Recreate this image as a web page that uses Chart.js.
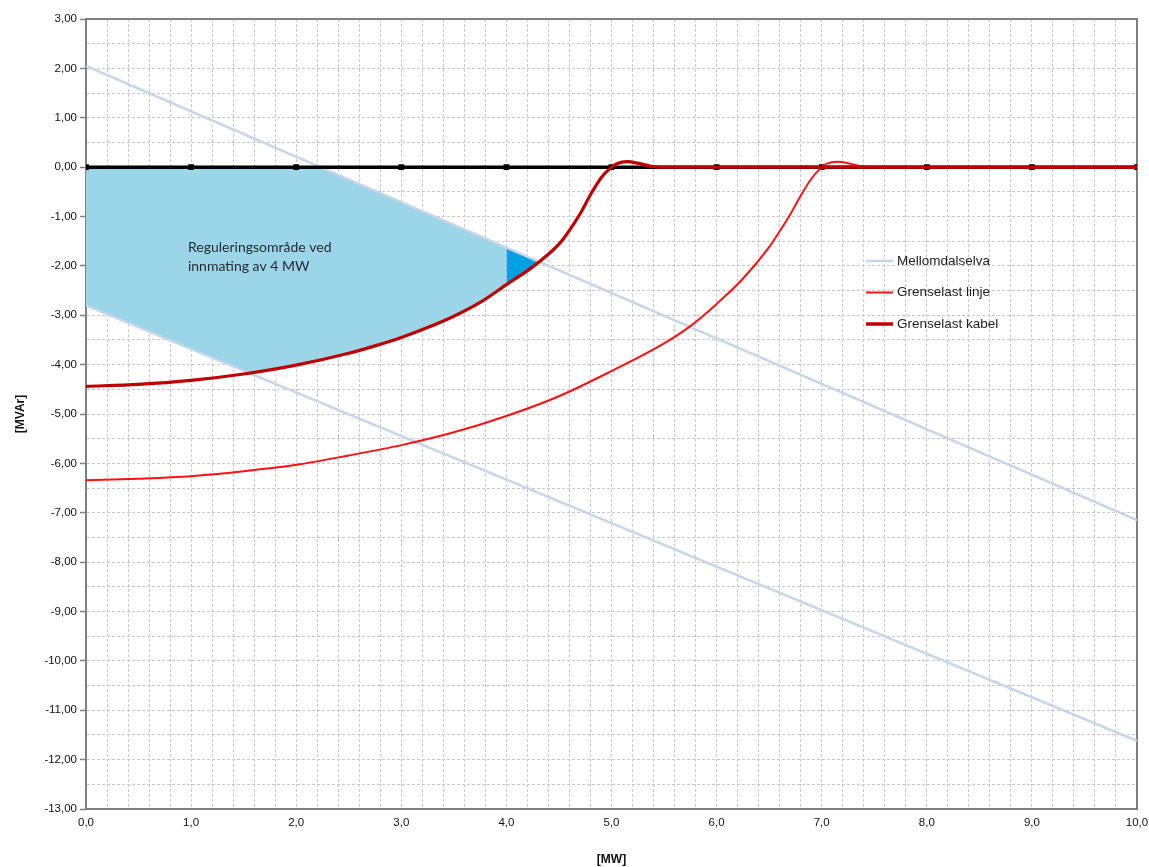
<!DOCTYPE html>
<html>
<head>
<meta charset="utf-8">
<script src="https://cdn.jsdelivr.net/npm/chart.js@4.4.1/dist/chart.umd.min.js"></script>
<style>
  html, body { margin: 0; padding: 0; background: #ffffff; }
  #wrap { width: 1149px; height: 867px; position: relative; }
</style>
</head>
<body>
<div id="wrap"><canvas id="c" width="1149" height="867"></canvas></div>
<script>
// ---- data (MW on x, MVAr on y) ----
const kabelX = [0, 0.5, 1.0, 1.5, 2.0, 2.5, 2.75, 3.0, 3.25, 3.5, 3.75, 4.0, 4.25, 4.5, 4.6, 4.7, 4.8, 4.9, 5.0, 5.05, 5.15, 5.25, 5.35, 5.45, 10];
const kabelY = [-4.44, -4.40, -4.32, -4.19, -4.01, -3.77, -3.62, -3.45, -3.25, -3.02, -2.74, -2.38, -2.02, -1.56, -1.28, -0.95, -0.56, -0.22, 0.0, 0.07, 0.11, 0.08, 0.03, 0.0, 0.0];

const linjeX = [0, 0.5, 1.0, 1.5, 2.0, 2.5, 3.0, 3.5, 4.0, 4.5, 5.0, 5.5, 5.75, 6.0, 6.25, 6.5, 6.6, 6.7, 6.8, 6.9, 7.0, 7.05, 7.15, 7.25, 7.35, 7.45, 10];
const linjeY = [-6.34, -6.31, -6.26, -6.16, -6.03, -5.84, -5.63, -5.37, -5.04, -4.64, -4.13, -3.57, -3.22, -2.77, -2.26, -1.62, -1.30, -0.96, -0.58, -0.24, 0.0, 0.07, 0.11, 0.08, 0.03, 0.0, 0.0];

// Mellomdalselva: upper and lower power-factor limits
const mellomUpperX = [0, 10];
const mellomUpperY = [2.05, -7.15];
const mellomLowerX = [0, 10];
const mellomLowerY = [-2.80, -11.62];

// zero reference line with markers
const zeroX = [0, 1, 2, 3, 4, 5, 6, 7, 8, 9, 10];
const zeroY = [0, 0, 0, 0, 0, 0, 0, 0, 0, 0, 0];

// regulation area at 4 MW infeed
const feedMW = 4.0;
const regionTopX = [0, 2.23, 4.0];
const regionTopY = [0, 0, -1.63];
const regionCornerX = [0, 1.55];      // lower limit line until it meets the cable curve
const regionCornerY = [-2.80, -4.17];
// small area above 4 MW between upper limit and cable curve
const wedgeTopX = [4.0, 4.31];
const wedgeTopY = [-1.63, -1.915];
const wedgeBottomX = [4.0, 4.25, 4.31];
const wedgeBottomY = [-2.38, -2.02, -1.915];

const legendLabels = ['Mellomdalselva', 'Grenselast linje', 'Grenselast kabel'];
const noteLines = ['Reguleringsområde ved', 'innmating av 4 MW'];

// ---- helpers ----
const pts = (xs, ys) => xs.map((x, i) => ({ x: x, y: ys[i] }));
const isInt = v => Math.abs(v - Math.round(v)) < 1e-6;
const comma = (v, d) => v.toFixed(d).replace('.', ',');

const regionBottom = pts(regionCornerX, regionCornerY).concat(
  pts(kabelX, kabelY).filter(p => p.x > regionCornerX[1] && p.x <= feedMW)
);

const C_KABEL = '#c00000';
const C_LINJE = '#ff1010';
const C_MELLOM = '#c5d6ec';
const C_AREA = '#9ad6e8';
const C_WEDGE = '#00a0e2';

const lineBase = { pointRadius: 0, tension: 0, fill: false };

const datasets = [
  Object.assign({}, lineBase, { label: legendLabels[2], data: pts(kabelX, kabelY), borderColor: C_KABEL, borderWidth: 3.2, cubicInterpolationMode: 'monotone' }),
  Object.assign({}, lineBase, { label: legendLabels[1], data: pts(linjeX, linjeY), borderColor: C_LINJE, borderWidth: 2, cubicInterpolationMode: 'monotone' }),
  Object.assign({}, lineBase, { label: '', data: pts(zeroX, zeroY), borderColor: '#000000', borderWidth: 3.5, pointRadius: 1.6, pointStyle: 'rect', pointBackgroundColor: '#000', pointBorderColor: '#000' }),
  Object.assign({}, lineBase, { label: legendLabels[0], data: pts(mellomUpperX, mellomUpperY), borderColor: C_MELLOM, borderWidth: 2.5 }),
  Object.assign({}, lineBase, { label: legendLabels[0], data: pts(mellomLowerX, mellomLowerY), borderColor: C_MELLOM, borderWidth: 2.5 }),
  // index 5: wedge upper boundary, index 6: wedge lower boundary filled to 5
  Object.assign({}, lineBase, { label: '', data: pts(wedgeTopX, wedgeTopY), borderColor: 'rgba(0,0,0,0)', borderWidth: 0 }),
  Object.assign({}, lineBase, { label: '', data: pts(wedgeBottomX, wedgeBottomY), borderColor: 'rgba(0,0,0,0)', borderWidth: 0, fill: { target: 5, above: C_WEDGE, below: C_WEDGE } }),
  // index 7: area upper boundary, index 8: area lower boundary filled to 7
  Object.assign({}, lineBase, { label: '', data: pts(regionTopX, regionTopY), borderColor: 'rgba(0,0,0,0)', borderWidth: 0 }),
  Object.assign({}, lineBase, { label: '', data: regionBottom, borderColor: 'rgba(0,0,0,0)', borderWidth: 0, fill: { target: 7, above: C_AREA, below: C_AREA } })
];

// frame around the plot area
const framePlugin = {
  id: 'frame',
  beforeDatasetsDraw(chart) {
    const { ctx, chartArea: a } = chart;
    ctx.save();
    ctx.strokeStyle = '#808080';
    ctx.lineWidth = 2;
    ctx.strokeRect(a.left, a.top, a.right - a.left, a.bottom - a.top);
    ctx.restore();
  }
};

// text inside the shaded area
const notePlugin = {
  id: 'note',
  afterDatasetsDraw(chart) {
    const { ctx, scales } = chart;
    const x = scales.x.getPixelForValue(0.97);
    const y = scales.y.getPixelForValue(-1.62);
    ctx.save();
    ctx.font = '14px Lato, "Open Sans", sans-serif';
    ctx.fillStyle = '#262b33';
    ctx.textBaseline = 'middle';
    noteLines.forEach((t, i) => ctx.fillText(t, x, y + i * 19));
    ctx.restore();
  }
};

// legend drawn inside the plot area
const legendPlugin = {
  id: 'innerLegend',
  afterDraw(chart) {
    const { ctx } = chart;
    const items = [
      { text: legendLabels[0], color: C_MELLOM, width: 2.5 },
      { text: legendLabels[1], color: C_LINJE, width: 2 },
      { text: legendLabels[2], color: C_KABEL, width: 3.5 }
    ];
    const x0 = 866, y0 = 261, dy = 31.5;
    ctx.save();
    ctx.font = '13.5px "Liberation Sans", Arial, sans-serif';
    ctx.textBaseline = 'middle';
    items.forEach((it, i) => {
      const y = y0 + i * dy;
      ctx.strokeStyle = it.color;
      ctx.lineWidth = it.width;
      ctx.beginPath();
      ctx.moveTo(x0, y);
      ctx.lineTo(x0 + 27, y);
      ctx.stroke();
      ctx.fillStyle = '#1c1c2a';
      ctx.fillText(it.text, x0 + 31, y);
    });
    ctx.restore();
  }
};

const gridColor = '#c8c8c8';
const tickFont = { family: '"Liberation Sans", Arial, sans-serif', size: 11.5 };

new Chart(document.getElementById('c'), {
  type: 'line',
  data: { datasets: datasets },
  options: {
    responsive: false,
    animation: false,
    events: [],
    layout: { autoPadding: false, padding: { top: 19, right: 12, left: 0, bottom: 0 } },
    plugins: {
      legend: { display: false },
      tooltip: { enabled: false },
      title: { display: false }
    },
    scales: {
      x: {
        type: 'linear',
        min: 0,
        max: 10,
        afterFit(s) { s.height = 58; s.paddingLeft = 0; s.paddingRight = 0; },
        ticks: {
          stepSize: 0.2,
          autoSkip: false,
          maxRotation: 0,
          padding: 7,
          color: '#111',
          font: tickFont,
          callback: v => (isInt(v) ? comma(v, 1) : '')
        },
        grid: { color: gridColor, lineWidth: 1, drawTicks: false },
        border: { display: true, color: '#808080', width: 2, dash: [3, 2] },
        title: {
          display: true,
          text: '[MW]',
          color: '#111',
          font: { family: '"Liberation Sans", Arial, sans-serif', size: 12, weight: 'bold' },
          padding: { top: 2, bottom: 0 }
        }
      },
      y: {
        type: 'linear',
        min: -13,
        max: 3,
        afterFit(s) { s.width = 86; s.paddingTop = 0; s.paddingBottom = 0; },
        ticks: {
          stepSize: 0.5,
          autoSkip: false,
          padding: 3,
          color: '#111',
          font: tickFont,
          callback: v => (isInt(v) ? comma(v, 2) : '')
        },
        grid: {
          color: gridColor,
          lineWidth: 1,
          tickLength: 6,
          tickColor: ctx => (ctx.tick && isInt(ctx.tick.value) ? '#808080' : 'rgba(0,0,0,0)'),
          tickWidth: 1.5
        },
        border: { display: true, color: '#808080', width: 2, dash: [3, 2] },
        title: {
          display: true,
          text: '[MVAr]',
          color: '#111',
          font: { family: '"Liberation Sans", Arial, sans-serif', size: 12, weight: 'bold' },
          padding: { top: 13, bottom: 0 }
        }
      }
    }
  },
  plugins: [framePlugin, notePlugin, legendPlugin]
});
</script>
</body>
</html>
